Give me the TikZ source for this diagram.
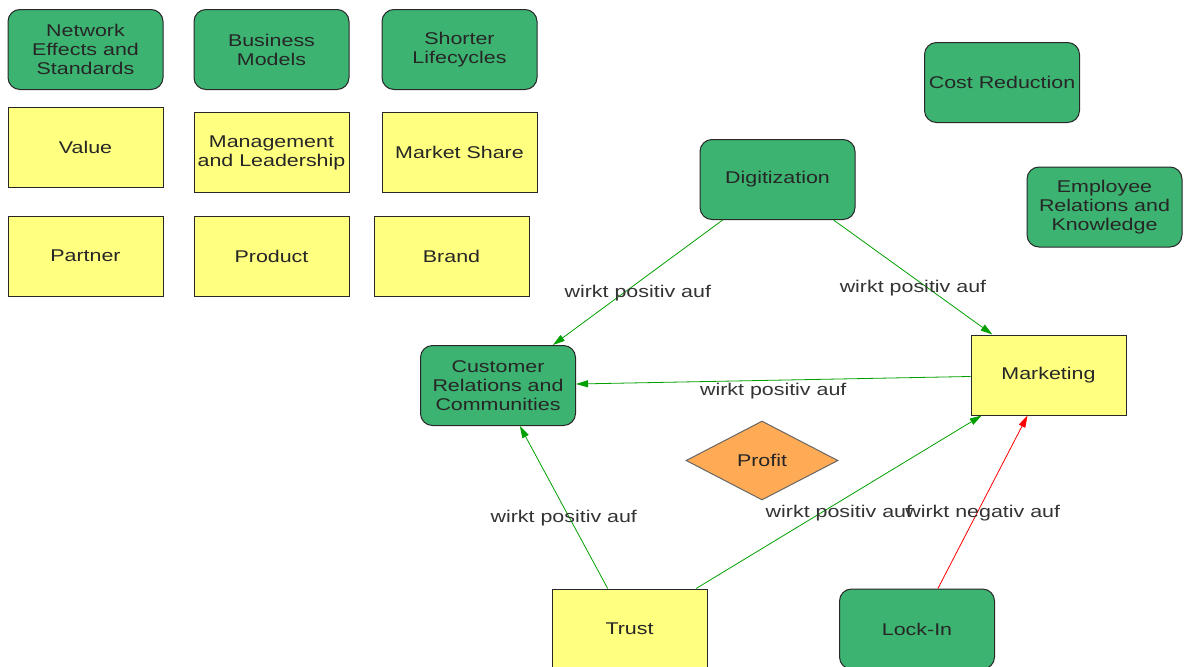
\documentclass[tikz,border=0pt]{standalone}
\usepackage{fontspec}
\setmainfont[FakeStretch=1.26]{Liberation Sans}
\usetikzlibrary{arrows.meta,shapes.geometric}
\definecolor{nodegreen}{RGB}{60,179,113}
\definecolor{noteyellow}{RGB}{255,255,128}
\definecolor{profitorange}{RGB}{255,170,85}
\definecolor{linkgreen}{RGB}{0,160,0}
\definecolor{linkred}{RGB}{255,0,0}
\definecolor{edgegray}{RGB}{40,40,40}
\tikzset{
  base/.style={draw=edgegray, line width=1pt, inner sep=0pt, align=center,
    minimum width=155pt, minimum height=80pt, text=black!85,
    font=\fontsize{17}{19}\selectfont},
  factor/.style={base, fill=nodegreen, rounded corners=12pt},
  item/.style={base, fill=noteyellow, rectangle},
  goal/.style={base, diamond, fill=profitorange, draw=gray!80!black,
    minimum width=152pt, minimum height=79pt},
  link/.style={draw=linkgreen, line width=0.8pt, -{Triangle[length=12pt,width=7pt]}},
  neglink/.style={link, draw=linkred, -{Triangle[length=12pt,width=7pt,fill=linkred]}},
  lbl/.style={midway, yshift=-11pt, inner sep=0pt, text=black!80,
    font=\fontsize{17}{19}\selectfont},
}
\begin{document}
\begin{tikzpicture}[x=1pt, y=-1pt]
  \clip (0,0) rectangle (1184,667);

  % key topics, top left
  \node[factor] (net)  at (85.5,49.5)  {Network\\Effects and\\Standards};
  \node[factor] (biz)  at (271.5,49.5) {Business\\Models};
  \node[factor] (life) at (459.5,49.5) {Shorter\\Lifecycles};

  \node[item] (value)  at (85.5,147)   {Value};
  \node[item] (mgmt)   at (271.5,152.5){Management\\and Leadership};
  \node[item] (share)  at (459.5,152.5){Market Share};

  \node[item] (partner) at (85.5,256)  {Partner};
  \node[item] (product) at (271.5,256) {Product};
  \node[item] (brand)   at (451.5,256) {Brand};

  % right-hand factors
  \node[factor] (cost) at (1002,82.5)  {Cost Reduction};
  \node[factor] (emp)  at (1104.5,207) {Employee\\Relations and\\Knowledge};

  % influence network
  \node[factor] (dig)  at (777.5,179.5) {Digitization};
  \node[factor] (cust) at (498,385.5)   {Customer\\Relations and\\Communities};
  \node[item]   (mkt)  at (1048.5,375)  {Marketing};
  \node[goal]   (profit) at (762,460.5) {Profit};
  \node[item]   (trust)  at (629.5,629) {Trust};
  \node[factor] (lock)   at (917,629)   {Lock-In};

  \draw[link] (dig)   -- node[lbl] {wirkt positiv auf} (cust);
  \draw[link] (dig)   -- node[lbl] {wirkt positiv auf} (mkt);
  \draw[link] (mkt)   -- node[lbl] {wirkt positiv auf} (cust);
  \draw[link] (trust) -- node[lbl] {wirkt positiv auf} (cust);
  \draw[link] (trust) -- node[lbl] {wirkt positiv auf} (mkt);
  \draw[neglink] (lock) -- node[lbl] {wirkt negativ auf} (mkt);
\end{tikzpicture}
\end{document}
